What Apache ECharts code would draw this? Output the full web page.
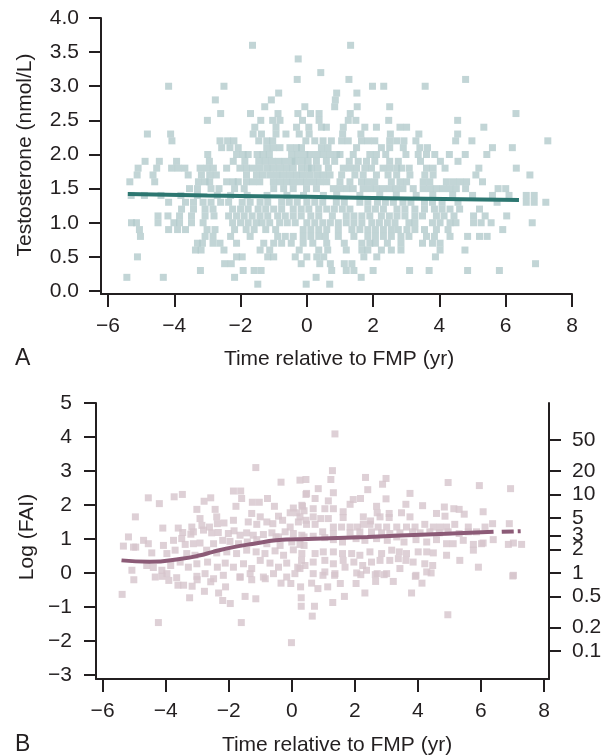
<!DOCTYPE html>
<html><head><meta charset="utf-8">
<script src="https://cdn.jsdelivr.net/npm/echarts@6/dist/echarts.min.js"></script>
<style>html,body{margin:0;padding:0;background:#fff}#c{width:613px;height:756px}</style>
</head><body><div id="c"></div>
<script>
// ---- tick labels ----
const xTicks = [-6, -4, -2, 0, 2, 4, 6, 8];
const testoTicks = [0, 0.5, 1, 1.5, 2, 2.5, 3, 3.5, 4];
const logFaiTicks = [-3, -2, -1, 0, 1, 2, 3, 4, 5];
const faiRightTicks = [0.1, 0.2, 0.5, 1, 2, 3, 5, 10, 20, 50];

// ---- Panel A: testosterone (nmol/L), measured at 0.1 steps; times (yr) per level ----
const testoLevels = [3.6, 3.4, 3.2, 3.1, 3.0, 2.9, 2.8, 2.7, 2.6, 2.5, 2.4, 2.3, 2.2, 2.1, 2.0, 1.9, 1.8, 1.7, 1.6, 1.5, 1.4, 1.3, 1.2, 1.1, 1.0, 0.9, 0.8, 0.7, 0.6, 0.5, 0.4, 0.3, 0.2, 0.1];
const testoTimes = [
  [-1.64, 1.32],
  [-0.26],
  [0.42],
  [-0.29, 1.27, 4.79],
  [-4.17, -2.5, 1.98, 2.32, 3.57],
  [-0.85, 0.9, 1.51],
  [-2.76, -1.07, 0.86],
  [-1.27, -0.06, 0.84, 1.52, 2.5],
  [-2.6, -1.7, -0.87, -0.27, 0.11, 0.37, 1.31, 6.31],
  [-3.0, -1.39, -1.03, -0.81, -0.13, 0.37, 1.25, 1.48, 2.47, 4.55],
  [-1.57, -0.93, -0.31, 0.06, 0.44, 0.59, 1.1, 1.75, 2.1, 2.81, 3.01, 5.34],
  [-4.81, -4.11, -1.62, -1.37, -0.93, -0.63, -0.23, 0.07, 1.08, 1.63, 2.52, 3.38, 4.55],
  [-4.07, -2.62, -2.39, -2.2, -1.45, -1.21, -1.03, -0.03, 0.24, 0.49, 0.74, 1.05, 1.25, 1.65, 1.85, 2.05, 2.5, 2.71, 2.93, 3.29, 4.49, 4.98, 7.27],
  [-2.57, -2.32, -2.07, -1.21, -1.01, -0.81, -0.51, -0.31, -0.16, 0.44, 0.64, 1.5, 2.25, 2.5, 2.91, 3.41, 3.64, 5.6, 6.2],
  [-2.99, -2.12, -1.92, -1.77, -1.5, -1.32, -1.13, -0.46, -0.26, -0.06, 0.1, 0.3, 0.5, 0.7, 0.9, 1.0, 1.4, 1.9, 2.1, 2.38, 2.99, 3.36, 3.61, 3.86, 4.3, 4.78, 5.43],
  [-4.88, -4.45, -3.93, -2.94, -2.22, -1.87, -1.45, -1.25, -1.05, -0.85, -0.65, -0.45, -0.35, -0.15, 0.04, 0.29, 0.59, 0.84, 1.28, 1.55, 1.8, 2.05, 2.5, 2.76, 3.43, 4.03, 4.56],
  [-5.09, -4.53, -4.08, -3.88, -3.68, -3.22, -3.02, -2.82, -2.42, -2.02, -1.82, -1.62, -1.42, -1.21, -1.01, -0.81, -0.61, -0.41, -0.16, 0.04, 0.14, 0.34, 0.65, 1.1, 1.3, 1.5, 1.75, 1.95, 2.3, 2.5, 2.71, 2.86, 3.09, 3.61, 3.81, 4.17, 5.19, 6.32],
  [-5.12, -4.64, -3.58, -3.18, -2.93, -2.73, -1.82, -1.52, -1.32, -1.11, -0.91, -0.71, -0.51, -0.31, -0.11, 0.09, 0.3, 0.5, 0.7, 1.05, 1.45, 1.7, 2.1, 2.45, 2.71, 3.11, 3.56, 3.81, 5.1, 6.73],
  [-5.34, -4.59, -3.27, -3.07, -2.93, -2.42, -2.22, -2.07, -1.82, -1.62, -1.42, -1.01, -0.81, -0.61, -0.41, -0.21, -0.01, 0.2, 0.4, 0.6, 1.0, 1.3, 1.65, 1.85, 2.05, 2.55, 2.81, 3.01, 3.51, 3.71, 4.21, 4.42, 4.62, 4.82, 5.3],
  [-3.54, -3.3, -2.89, -2.65, -2.18, -1.89, -1.0, -0.7, -0.41, -0.01, 0.29, 0.8, 1.0, 1.2, 1.4, 1.7, 1.9, 2.1, 2.3, 2.5, 2.7, 2.9, 3.21, 3.51, 3.71, 3.91, 4.11, 4.31, 4.51, 4.79, 5.77, 6.0],
  [-5.3, -4.9, -4.4, -3.8, -3.3, -2.7, -2.3, -1.8, -1.2, -0.6, -0.1, 0.5, 0.9, 1.6, 2.2, 2.7, 3.3, 3.8, 4.4, 5.0, 5.6, 6.1, 6.62, 6.86],
  [-4.17, -3.66, -3.42, -3.13, -2.89, -2.6, -2.36, -1.95, -1.71, -1.41, -1.18, -0.76, -0.53, -0.29, 0.0, 0.24, 0.48, 0.89, 1.13, 1.6, 1.84, 2.13, 2.37, 2.61, 2.9, 3.14, 3.55, 3.79, 4.08, 4.56, 5.74, 6.62, 6.86, 7.21],
  [-3.78, -3.42, -3.07, -2.83, -2.24, -2.0, -1.77, -1.47, -1.24, -1.0, -0.76, -0.41, -0.17, 0.06, 0.36, 0.6, 0.83, 1.07, 1.3, 1.84, 2.07, 2.31, 2.72, 2.96, 3.26, 3.55, 3.85, 4.08, 4.32, 4.61, 5.21],
  [-4.49, -4.19, -3.84, -3.48, -3.07, -2.8, -2.36, -2.12, -1.89, -1.65, -1.41, -1.18, -0.88, -0.65, -0.41, -0.17, 0.12, 0.36, 0.77, 1.19, 1.42, 1.66, 1.9, 2.25, 2.49, 2.72, 2.96, 3.26, 3.49, 3.91, 4.14, 4.44, 5.03, 5.38, 6.03],
  [-5.29, -5.14, -4.49, -4.01, -3.84, -3.48, -3.13, -2.24, -2.0, -1.77, -1.53, -1.35, -1.12, -0.82, -0.59, -0.35, 0.0, 0.24, 0.48, 0.71, 0.95, 1.19, 1.42, 1.66, 1.96, 2.19, 2.43, 2.66, 3.08, 3.26, 3.79, 4.02, 4.32, 4.5, 5.03, 5.26, 5.56, 6.8],
  [-5.05, -4.17, -3.9, -3.66, -3.01, -2.77, -2.18, -1.83, -1.59, -1.24, -0.94, -0.11, 0.12, 0.36, 0.6, 0.95, 1.36, 1.6, 1.84, 2.07, 2.31, 2.55, 2.76, 3.02, 3.26, 3.55, 3.91, 4.26, 5.91],
  [-5.02, -3.07, -2.83, -2.3, -1.71, -0.88, -0.65, -0.41, -0.11, 0.12, 0.36, 0.56, 0.95, 1.42, 1.84, 2.07, 2.31, 2.55, 2.84, 3.08, 3.61, 3.85, 4.32, 4.85, 5.21, 5.44],
  [-3.3, -3.15, -2.83, -2.62, -2.12, -1.3, -1.0, -0.76, -0.47, -0.11, 0.18, 0.6, 1.13, 1.66, 1.9, 2.07, 2.43, 2.84, 3.49, 3.79, 4.02],
  [-3.36, -3.19, -2.5, -1.41, -1.12, -0.23, 0.36, 0.63, 1.19, 1.66, 1.84, 2.25, 2.55, 2.84, 4.02, 4.77],
  [-5.11, -2.12, -1.95, -1.18, -1.0, -0.35, 0.0, 0.3, 0.51, 1.72, 2.11, 3.88],
  [-2.48, -2.28, -0.17, 0.39, 0.71, 1.13, 1.36, 6.9],
  [-3.21, -1.92, -1.59, -1.38, 0.75, 1.19, 1.42, 2.0, 3.1, 3.69, 4.85, 5.81],
  [-5.43, -4.33, -2.18, 0.28, 1.64],
  [-1.48, -0.02, 0.69]
];
const testoFit = [[-5.4, 1.42], [-3, 1.40], [0, 1.38], [3, 1.355], [6.4, 1.335]];

// ---- Panel B: [time (yr), log(FAI)] ----
const faiPoints = [
  [-1.14, 3.10], [-0.34, 2.67], [0.26, 2.73], [0.45, 2.31], [-4.55, 2.21], [-3.73, 2.24], [-3.47, 2.31], [-2.57, 2.21],
  [-1.85, 2.41], [-1.62, 2.41], [-1.59, 2.19], [-0.77, 2.19], [-4.2, 2.04], [-2.78, 2.11], [-3.01, 1.87], [-2.43, 1.87],
  [-1.77, 1.96], [-1.25, 2.08], [-1.03, 2.08], [-0.55, 1.96], [0.05, 1.91], [0.32, 1.99], [-4.96, 1.65], [-2.91, 1.6],
  [-2.38, 1.65], [-1.27, 1.75], [-1.0, 1.65], [-0.42, 1.67], [-0.05, 1.77], [0.16, 1.77], [0.39, 1.83], [-4.09, 1.32],
  [-3.6, 1.32], [-3.17, 1.35], [-2.85, 1.4], [-2.61, 1.35], [-2.36, 1.45], [-2.15, 1.47], [-1.85, 1.55], [-1.38, 1.5],
  [-1.11, 1.43], [-0.79, 1.5], [-0.6, 1.45], [-0.29, 1.55], [-0.05, 1.35], [0.21, 1.5], [0.45, 1.55], [-3.46, 1.19],
  [-3.2, 1.14], [-3.12, 1.21], [-2.8, 1.26], [-2.54, 1.18], [-2.33, 1.19], [-2.01, 1.16], [-1.83, 1.24], [-1.64, 1.11],
  [-1.43, 1.18], [-1.22, 1.11], [-0.9, 1.13], [-0.63, 1.18], [-0.42, 1.06], [-0.21, 1.21], [0.05, 1.16], [0.32, 1.11],
  [-5.18, 1.06], [-4.95, 0.76], [-4.7, 0.96], [-4.55, 0.86], [-4.07, 0.81], [-3.75, 0.96], [-3.49, 1.01], [-3.38, 0.84],
  [-3.12, 0.86], [-2.91, 0.88], [-2.48, 0.86], [-2.19, 0.96], [-1.96, 0.93], [-1.69, 0.86], [-1.41, 0.91], [-1.11, 0.98],
  [-0.79, 0.86], [-0.5, 1.06], [-0.37, 0.81], [0.0, 0.91], [0.26, 0.84], [-5.34, 0.79], [-5.02, 0.76], [-4.44, 0.59],
  [-3.96, 0.57], [-3.7, 0.67], [-3.33, 0.57], [-3.07, 0.52], [-2.7, 0.67], [-2.38, 0.59], [-2.06, 0.62], [-1.75, 0.57],
  [-1.43, 0.67], [-1.13, 0.62], [-0.85, 0.57], [-0.53, 0.65], [-0.26, 0.52], [0.05, 0.68], [0.32, 0.57], [-5.07, 0.08],
  [-4.6, 0.22], [-4.39, 0.16], [-4.12, 0.08], [-3.84, 0.22], [-3.54, 0.32], [-3.28, 0.17], [-3.01, 0.27], [-2.67, 0.32],
  [-2.36, 0.17], [-2.11, 0.29], [-1.85, 0.17], [-1.53, 0.27], [-1.27, 0.13], [-1.0, 0.37], [-0.69, 0.29], [-0.42, 0.17],
  [-0.16, 0.29], [0.19, 0.17], [0.42, 0.22], [-4.33, -0.12], [-3.96, -0.02], [-3.65, -0.14], [-3.01, -0.1], [-2.75, -0.02],
  [-2.48, -0.17], [-2.17, -0.07], [-1.64, -0.12], [-1.32, -0.02], [-0.9, -0.12], [-0.58, -0.02], [-0.16, -0.12], [0.1, -0.02],
  [-5.38, -0.63], [-5.01, -0.2], [-4.23, -1.46], [-4.11, -0.1], [-3.9, -0.22], [-3.61, -0.36], [-3.43, -0.36], [-3.24, -0.73],
  [-3.16, -0.39], [-3.0, -0.2], [-2.77, -0.54], [-2.57, -0.26], [-2.32, -0.59], [-2.19, -0.81], [-2.1, -0.41], [-1.95, -0.9],
  [-1.6, -1.46], [-1.64, -0.12], [-1.48, -0.69], [-1.14, -0.76], [-1.27, -0.2], [-0.84, -0.17], [-0.34, -0.3], [-0.03, -0.31],
  [-0.01, -2.05], [0.28, -0.41], [0.3, -0.73], [0.3, -0.98], [0.63, -0.3], [0.65, -1.27], [0.72, -0.98], [0.83, -0.46],
  [0.99, -0.07], [1.14, -0.41], [1.3, -0.87], [1.36, -0.07], [1.54, -0.31], [1.67, -0.69], [2.04, -0.31], [2.19, -0.05],
  [2.32, -0.59], [2.65, -0.05], [2.66, -0.25], [2.93, -0.05], [3.22, -0.25], [3.8, -0.59], [3.92, -0.1], [4.13, -0.3],
  [4.42, 0.0], [4.95, -1.23], [7.01, -0.09],
  [1.37, 4.09], [1.29, 3.01], [1.24, 2.75], [2.34, 2.81], [2.99, 2.78], [2.88, 2.61], [2.41, 2.45], [1.32, 2.36],
  [0.84, 2.48], [0.45, 2.75], [0.47, 2.34], [4.96, 2.66], [5.95, 2.57], [6.94, 2.48], [3.75, 2.34], [2.99, 2.18],
  [1.95, 2.16], [2.18, 2.19], [1.85, 2.02], [1.16, 2.12], [0.74, 2.19], [0.34, 1.96], [2.69, 1.96], [3.62, 2.02],
  [4.15, 1.98], [4.84, 1.94], [5.14, 1.89], [5.31, 1.87], [6.07, 1.8], [4.59, 1.75], [4.86, 1.67], [5.47, 1.73],
  [3.48, 1.77], [3.75, 1.65], [3.09, 1.75], [3.09, 1.63], [2.71, 1.77], [2.8, 1.65], [2.27, 1.65], [2.5, 1.53],
  [1.63, 1.8], [1.63, 1.63], [1.32, 1.89], [1.05, 1.89], [0.68, 1.89], [0.68, 1.65], [0.26, 1.65], [0.92, 1.6],
  [1.16, 1.6], [0.47, 1.43], [0.74, 1.43], [1.32, 1.35], [1.58, 1.35], [1.85, 1.35], [2.08, 1.35], [2.27, 1.43],
  [2.48, 1.43], [2.74, 1.35], [3.01, 1.35], [3.33, 1.35], [3.64, 1.35], [3.91, 1.35], [4.22, 1.43], [4.49, 1.35],
  [4.7, 1.35], [4.91, 1.35], [5.17, 1.43], [5.6, 1.35], [6.13, 1.35], [6.37, 1.45], [6.9, 1.45], [0.98, 1.21],
  [1.32, 1.16], [1.85, 1.18], [2.16, 1.21], [2.53, 1.21], [2.85, 1.18], [3.11, 1.16], [3.43, 1.18], [3.83, 1.21],
  [4.07, 1.18], [4.38, 1.21], [4.68, 1.18], [4.96, 1.21], [5.31, 1.16], [5.6, 1.21], [5.86, 1.21], [0.39, 1.06],
  [0.68, 1.08], [1.05, 1.04], [1.32, 0.98], [1.61, 0.91], [2.04, 1.01], [2.32, 0.96], [2.69, 1.01], [3.03, 0.96],
  [3.33, 1.06], [3.56, 0.91], [3.94, 0.98], [4.28, 0.91], [4.59, 0.98], [4.91, 0.86], [5.12, 0.86], [5.44, 0.96],
  [5.76, 0.84], [6.07, 0.88], [6.39, 0.98], [6.87, 0.84], [7.29, 0.84], [0.39, 0.81], [0.74, 0.57], [1.0, 0.62],
  [1.32, 0.62], [1.61, 0.57], [1.9, 0.57], [2.16, 0.52], [2.48, 0.62], [2.85, 0.57], [3.17, 0.67], [3.41, 0.62],
  [3.64, 0.57], [4.01, 0.62], [4.28, 0.62], [4.49, 0.59], [4.91, 0.52], [5.33, 0.37], [5.76, 0.67], [6.02, 0.86],
  [7.03, 0.88], [0.31, 0.37], [0.68, 0.32], [1.05, 0.37], [1.32, 0.27], [1.63, 0.37], [1.97, 0.32], [2.25, 0.22],
  [2.53, 0.32], [2.8, 0.37], [3.11, 0.37], [3.38, 0.42], [3.62, 0.37], [3.85, 0.32], [4.22, 0.27], [4.47, 0.22],
  [0.26, 0.13], [0.68, -0.02], [1.05, 0.03], [1.37, -0.02], [1.69, 0.17], [2.06, 0.0], [2.37, 0.08], [2.71, -0.02],
  [3.01, -0.02], [3.43, 0.13], [3.94, -0.07], [4.28, 0.03], [5.92, 0.17], [7.03, -0.07]
];
const faiFit = [[-5.4, 0.37], [-4.5, 0.33], [-3.5, 0.42], [-2.9, 0.52], [-2.5, 0.62], [-1.85, 0.76], [-1.2, 0.86], [-0.5, 0.96], [0.5, 1.0], [2.4, 1.06], [4.5, 1.14], [6.4, 1.21]];
const faiFitExtension = [[6.66, 1.21], [7.26, 1.23]];

// ---- build ----
const FONT = 'Liberation Sans, Arial, sans-serif';
const INK = '#231f20';
const testoData = [];
testoLevels.forEach((lv, i) => testoTimes[i].forEach(t => testoData.push([t, lv])));
const minus = v => String(v).replace('-', '\u2212');

function xAxisCfg(grid, min, max) {
  return {
    gridIndex: grid, type: 'value', min: min, max: max,
    axisLine: { show: true, onZero: false, lineStyle: { color: INK, width: 2 } },
    axisTick: { show: true, customValues: xTicks, length: 13, lineStyle: { color: INK, width: 2 } },
    axisLabel: { customValues: xTicks, margin: 22, fontSize: 21, color: INK, fontFamily: FONT, formatter: minus },
    splitLine: { show: false }
  };
}
function yAxisCfg(grid, min, max, ticks, fmt, pos, margin) {
  return {
    gridIndex: grid, type: 'value', min: min, max: max, position: pos,
    axisLine: { show: true, onZero: false, lineStyle: { color: INK, width: 2 } },
    axisTick: { show: true, customValues: ticks, length: 12, lineStyle: { color: INK, width: 2 } },
    axisLabel: { customValues: ticks, margin: margin, fontSize: 21, color: INK, fontFamily: FONT, formatter: fmt },
    splitLine: { show: false }
  };
}

const chart = echarts.init(document.getElementById('c'), null, { renderer: 'canvas' });
chart.setOption({
  animation: false,
  backgroundColor: '#ffffff',
  grid: [
    { left: 101, top: 18, width: 471, height: 276, outerBoundsMode: 'none' },
    { left: 96, top: 403, width: 453, height: 276, outerBoundsMode: 'none' }
  ],
  xAxis: [xAxisCfg(0, -6.21, 8), xAxisCfg(1, -6.209, 8.159)],
  yAxis: [
    yAxisCfg(0, -0.044, 4, testoTicks, v => v.toFixed(1), 'left', 22),
    yAxisCfg(1, -3.12, 5, logFaiTicks, minus, 'left', 24),
    yAxisCfg(1, -3.12, 5, faiRightTicks.map(Math.log), v => String(Math.round(Math.exp(v) * 10) / 10), 'right', 23)
  ],
  series: [
    { type: 'scatter', xAxisIndex: 0, yAxisIndex: 0, data: testoData, symbol: 'rect', symbolSize: 7,
      itemStyle: { color: '#b3cacc' }, z: 2 },
    { type: 'line', xAxisIndex: 0, yAxisIndex: 0, data: testoFit, smooth: true, showSymbol: false,
      lineStyle: { color: '#2d7771', width: 4 }, z: 3 },
    { type: 'scatter', xAxisIndex: 1, yAxisIndex: 1, data: faiPoints, symbol: 'rect', symbolSize: 7,
      itemStyle: { color: '#d6c4cc' }, z: 2 },
    { type: 'line', xAxisIndex: 1, yAxisIndex: 1, data: faiFit, smooth: true, showSymbol: false,
      lineStyle: { color: '#8c5b77', width: 4 }, z: 3 },
    { type: 'line', xAxisIndex: 1, yAxisIndex: 1, data: faiFitExtension, showSymbol: false,
      lineStyle: { color: '#8c5b77', width: 4, type: [12, 4] }, z: 3 }
  ],
  graphic: [
    { type: 'text', x: 25, y: 155, rotation: Math.PI / 2,
      style: { text: 'Testosterone (nmol/L)', x: 0, y: 0, align: 'center', verticalAlign: 'middle', fontSize: 21, fontFamily: FONT, fill: INK } },
    { type: 'text', x: 339, y: 359,
      style: { text: 'Time relative to FMP (yr)', x: 0, y: 0, align: 'center', verticalAlign: 'middle', fontSize: 21, fontFamily: FONT, fill: INK } },
    { type: 'text', x: 15, y: 359,
      style: { text: 'A', x: 0, y: 0, align: 'left', verticalAlign: 'middle', fontSize: 23, fontFamily: FONT, fill: INK } },
    { type: 'text', x: 27, y: 537, rotation: Math.PI / 2,
      style: { text: 'Log (FAI)', x: 0, y: 0, align: 'center', verticalAlign: 'middle', fontSize: 21, fontFamily: FONT, fill: INK } },
    { type: 'text', x: 337, y: 745,
      style: { text: 'Time relative to FMP (yr)', x: 0, y: 0, align: 'center', verticalAlign: 'middle', fontSize: 21, fontFamily: FONT, fill: INK } },
    { type: 'text', x: 15, y: 745,
      style: { text: 'B', x: 0, y: 0, align: 'left', verticalAlign: 'middle', fontSize: 23, fontFamily: FONT, fill: INK } }
  ]
});
</script>
</body></html>
